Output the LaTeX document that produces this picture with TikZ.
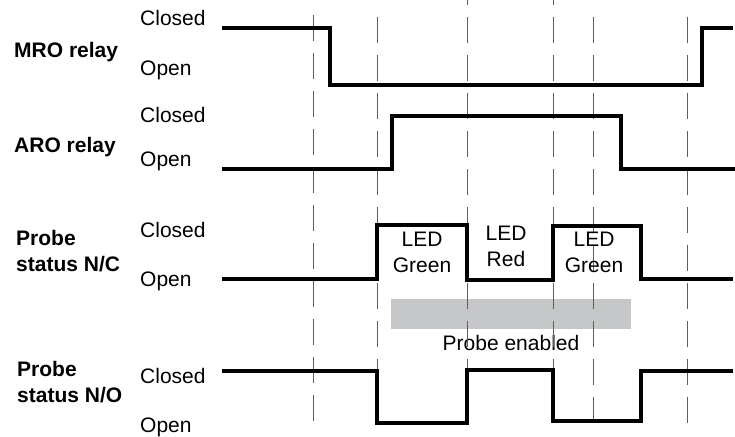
\documentclass[tikz,border=0pt]{standalone}
\usepackage{fontspec}
\setmainfont{Liberation Sans}
\usetikzlibrary{positioning}
\definecolor{gridgray}{HTML}{5E5E5E}
\definecolor{bargray}{HTML}{C6C7C8}

\begin{document}
\begin{tikzpicture}[
  x=1pt, y=-1pt,
  signal/.style={draw=black, line width=4pt},
  marker/.style={draw=gridgray, line width=1pt, dash pattern=on 26pt off 12pt},
  signame/.style={font=\fontsize{21}{25.5}\selectfont\bfseries, align=left,
    anchor=base west, inner sep=0pt},
  level/.style={font=\fontsize{21}{25}\selectfont, anchor=base west, inner sep=0pt},
  ledtag/.style={font=\fontsize{21}{25.5}\selectfont, align=center,
    anchor=base, inner sep=0pt},
]

\useasboundingbox (0,0) rectangle (735,436);

% =============================================
% Signal names and levels
% =============================================
\node[signame] (mro) at (14,57) {MRO relay};
\node[signame] (aro) at (14,152) {ARO relay};
\node[signame] (nc) at (16,271) {Probe\\status N/C};
\node[signame] (no) at (17,402) {Probe\\status N/O};

\node[level] (mroC) at (140,26) {Closed};
\node[level] (mroO) at (140,75) {Open};
\node[level] (aroC) at (140,122) {Closed};
\node[level] (aroO) at (140,166) {Open};
\node[level] (ncC) at (140,237) {Closed};
\node[level] (ncO) at (140,286) {Open};
\node[level] (noC) at (140,383) {Closed};
\node[level] (noO) at (140,432) {Open};

% =============================================
% Probe enabled window
% =============================================
\node[fill=bargray, minimum width=240pt, minimum height=30pt, inner sep=0pt]
  (enbar) at (511,314) {};
\node[font=\fontsize{21}{25}\selectfont, inner sep=0pt, below=6pt of enbar]
  (entext) {Probe enabled};

% =============================================
% Time markers
% =============================================
\draw[marker] (313,15) -- (313,432);
\draw[marker] (377,17) -- (377,432);
\draw[marker, dash phase=21pt] (467,0) -- (467,432);
\draw[marker, dash phase=21pt] (553,0) -- (553,432);
\draw[marker] (593,17) -- (593,432);
\draw[marker] (687,17) -- (687,432);

% =============================================
% Waveforms
% =============================================
% MRO relay
\draw[signal] (222,28) -- (330,28) -- (330,85) -- (702,85) -- (702,28) -- (733,28);
% ARO relay
\draw[signal] (222,169) -- (392,169) -- (392,116) -- (621,116) -- (621,169) -- (735,169);
% Probe N/C
\draw[signal] (222,279) -- (377,279) -- (377,225) -- (467,225) -- (467,280)
  -- (553,280) -- (553,226) -- (641,226) -- (641,279) -- (733,279);
% Probe N/O
\draw[signal] (222,371) -- (377,371) -- (377,423) -- (467,423) -- (467,370)
  -- (553,370) -- (553,421) -- (641,421) -- (641,371) -- (733,371);

% LED states
\node[ledtag] (led1) at (422,272) {LED\\Green};
\node[ledtag] (led2) at (506,266) {LED\\Red};
\node[ledtag] (led3) at (594,272) {LED\\Green};

\end{tikzpicture}
\end{document}
